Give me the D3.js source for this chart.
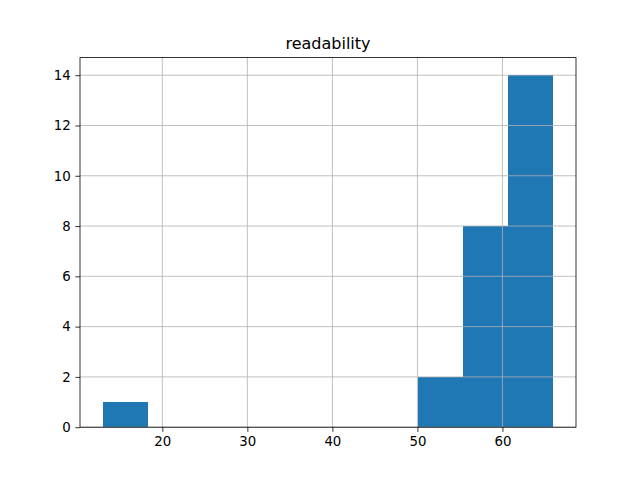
<!DOCTYPE html>
<html>
<head>
<meta charset="utf-8">
<script src="https://cdn.jsdelivr.net/npm/d3@7"></script>
<style>
  body { margin: 0; background: #fff; }
  svg { display: block; font-family: "DejaVu Sans", sans-serif; }
</style>
</head>
<body>
<svg id="chart" width="640" height="480"></svg>
<script>
const title = "readability";
const dataMin = 12.97;
const dataMax = 66.0;
const counts = [1, 0, 0, 0, 0, 0, 0, 2, 8, 14];
const xTicks = [20, 30, 40, 50, 60];
const yTicks = [0, 2, 4, 6, 8, 10, 12, 14];

const W = 640, H = 480;
const m = { left: 80, right: 64, top: 57.6, bottom: 52.8 };
const svg = d3.select("#chart");
svg.append("rect").attr("width", W).attr("height", H).attr("fill", "#fff");

const nb = counts.length;
const bw = (dataMax - dataMin) / nb;
const bins = counts.map((c, i) => ({ x0: dataMin + i * bw, x1: dataMin + (i + 1) * bw, c }));
const pad = (dataMax - dataMin) * 0.05;
const x = d3.scaleLinear().domain([dataMin - pad, dataMax + pad]).range([m.left, W - m.right]);
const yMax = d3.max(counts) * 1.05;
const y = d3.scaleLinear().domain([0, yMax]).range([H - m.bottom, m.top]);

const g = svg.append("g");
g.selectAll("rect.bar").data(bins.filter(d => d.c > 0)).enter().append("rect")
  .attr("class", "bar")
  .attr("x", d => x(d.x0)).attr("width", d => x(d.x1) - x(d.x0))
  .attr("y", d => y(d.c)).attr("height", d => y(0) - y(d.c))
  .attr("fill", "#1f77b4")
  .attr("shape-rendering", "crispEdges");

// grid on top
g.selectAll("line.gx").data(xTicks).enter().append("line")
  .attr("x1", d => x(d)).attr("x2", d => x(d))
  .attr("y1", m.top).attr("y2", H - m.bottom)
  .attr("stroke", "#b0b0b0").attr("stroke-width", 0.8);
g.selectAll("line.gy").data(yTicks).enter().append("line")
  .attr("y1", d => y(d)).attr("y2", d => y(d))
  .attr("x1", m.left).attr("x2", W - m.right)
  .attr("stroke", "#b0b0b0").attr("stroke-width", 0.8);

const xAxis = svg.append("g").attr("transform", `translate(0,${H - m.bottom})`)
  .call(d3.axisBottom(x).tickValues(xTicks).tickFormat(d3.format("d")).tickSizeOuter(0).tickSize(4.67).tickPadding(4.7));
const yAxis = svg.append("g").attr("transform", `translate(${m.left},0)`)
  .call(d3.axisLeft(y).tickValues(yTicks).tickFormat(d3.format("d")).tickSizeOuter(0).tickSize(4.67).tickPadding(4.7));
[xAxis, yAxis].forEach(a => {
  a.select(".domain").remove();
  a.selectAll("text").attr("font-size", "13.33px").attr("fill", "#000").attr("font-family", "DejaVu Sans, sans-serif");
  a.selectAll("line").attr("stroke", "#000").attr("stroke-width", 0.8);
});

// spines
svg.append("rect").attr("x", m.left).attr("y", m.top)
  .attr("width", W - m.left - m.right).attr("height", H - m.top - m.bottom)
  .attr("fill", "none").attr("stroke", "#000").attr("stroke-width", 0.8);

svg.append("text").attr("x", (m.left + W - m.right) / 2).attr("y", m.top - 9)
  .attr("text-anchor", "middle").attr("font-size", "16px").attr("fill", "#000")
  .text(title);
</script>
</body>
</html>
